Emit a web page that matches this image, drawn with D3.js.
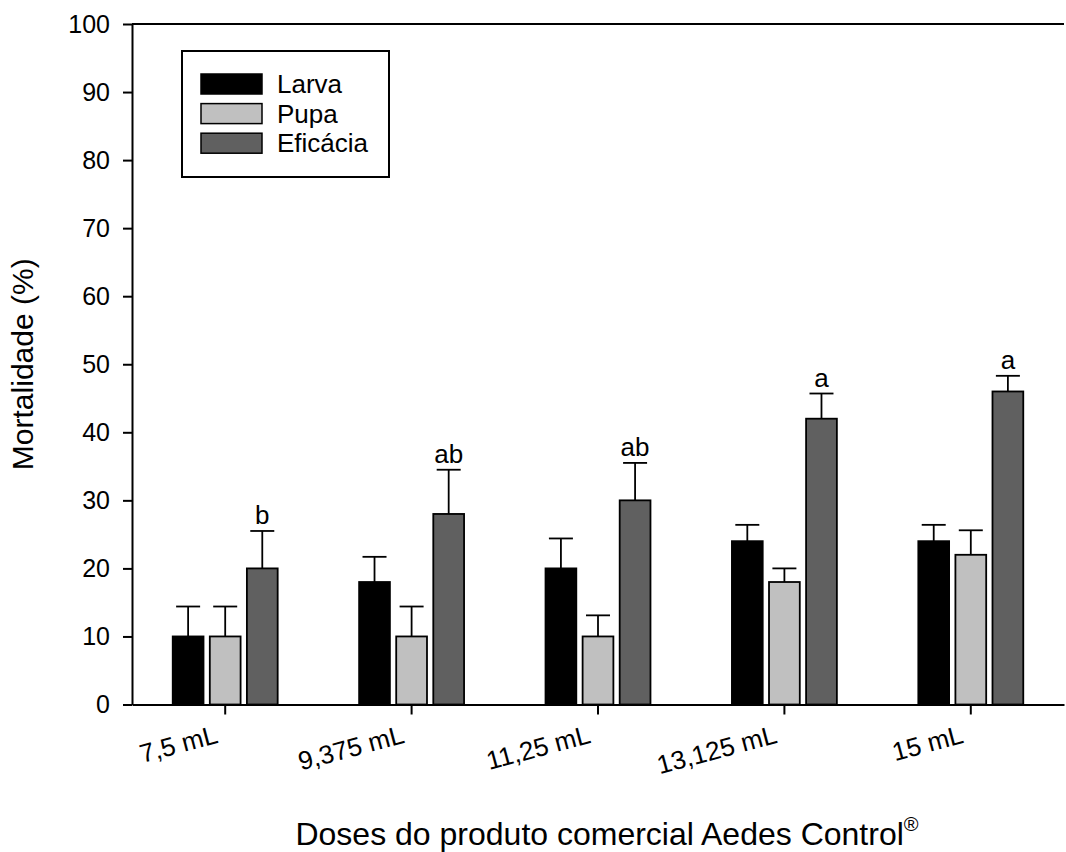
<!DOCTYPE html>
<html>
<head>
<meta charset="utf-8">
<script src="https://cdn.jsdelivr.net/npm/d3@7"></script>
<style>
  body { margin: 0; background: #fff; }
  svg { display: block; font-family: "Liberation Sans", Arial, sans-serif; }
</style>
</head>
<body>
<svg width="1066" height="852"></svg>
<script>
// doses and series
var doses = ["7,5 mL", "9,375 mL", "11,25 mL", "13,125 mL", "15 mL"];
var seriesNames = ["Larva", "Pupa", "Eficácia"];
var seriesColors = ["#000000", "#c0c0c0", "#606060"];

var larva = [10, 18, 20, 24, 24];
var pupa = [10, 10, 10, 18, 22];
var eficacia = [20, 28, 30, 42, 46];

var larvaErr = [4.4, 3.7, 4.4, 2.4, 2.4];
var pupaErr = [4.4, 4.4, 3.1, 2.0, 3.6];
var eficaciaErr = [5.5, 6.5, 5.5, 3.7, 2.3];

var letters = ["b", "ab", "ab", "a", "a"];
var yTicks = [0, 10, 20, 30, 40, 50, 60, 70, 80, 90, 100];

var values = [larva, pupa, eficacia];
var errors = [larvaErr, pupaErr, eficaciaErr];

var margin = {left: 132, right: 1064, top: 24, bottom: 704.5};

var svg = d3.select("svg");

var x0 = d3.scaleBand()
  .domain(doses)
  .range([margin.left, margin.right])
  .paddingInner(0.437)
  .paddingOuter(0.2185);

var x1 = d3.scaleBand()
  .domain(seriesNames)
  .range([0, x0.bandwidth()])
  .paddingInner(0.17);

var y = d3.scaleLinear()
  .domain([0, 100])
  .range([margin.bottom, margin.top]);

// flat list of bars
var bars = [];
doses.forEach(function(d, i){
  seriesNames.forEach(function(s, j){
    bars.push({dose: d, series: s, idx: j, value: values[j][i], err: errors[j][i]});
  });
});

function barMid(d){ return x0(d.dose) + x1(d.series) + x1.bandwidth() / 2; }

var barG = svg.append("g");

// error bars (upper only), drawn first so the bar outline sits on top
var capW = 24;
var errG = barG.selectAll("g.err")
  .data(bars)
  .enter().append("g")
  .attr("class", "err")
  .attr("stroke", "#000")
  .attr("stroke-width", 1.8);

errG.append("line")
  .attr("x1", barMid)
  .attr("x2", barMid)
  .attr("y1", function(d){ return y(d.value); })
  .attr("y2", function(d){ return y(d.value + d.err); });

errG.append("line")
  .attr("x1", function(d){ return barMid(d) - capW / 2; })
  .attr("x2", function(d){ return barMid(d) + capW / 2; })
  .attr("y1", function(d){ return y(d.value + d.err); })
  .attr("y2", function(d){ return y(d.value + d.err); });

barG.selectAll("rect")
  .data(bars)
  .enter().append("rect")
  .attr("x", function(d){ return x0(d.dose) + x1(d.series); })
  .attr("y", function(d){ return y(d.value); })
  .attr("width", x1.bandwidth())
  .attr("height", function(d){ return y(0) - y(d.value); })
  .attr("fill", function(d){ return seriesColors[d.idx]; })
  .attr("stroke", "#000")
  .attr("stroke-width", 1.8);

// significance letters over Eficácia
svg.append("g").selectAll("text")
  .data(doses)
  .enter().append("text")
  .attr("x", function(d){ return x0(d) + x1("Eficácia") + x1.bandwidth() / 2; })
  .attr("y", function(d, i){ return y(eficacia[i] + eficaciaErr[i]) - 7; })
  .attr("text-anchor", "middle")
  .attr("font-size", 26)
  .text(function(d, i){ return letters[i]; });

// axes
var yAxis = d3.axisLeft(y)
  .tickValues(yTicks)
  .tickSize(9)
  .tickSizeOuter(0)
  .tickPadding(13);

var yG = svg.append("g")
  .attr("transform", "translate(" + margin.left + ",0)")
  .call(yAxis);
yG.selectAll("text").attr("font-size", 25).attr("fill", "#000").style("font-family", "inherit");
yG.selectAll("line").attr("stroke", "#000").attr("stroke-width", 2);
yG.select(".domain").attr("stroke", "#000").attr("stroke-width", 2);

var xAxis = d3.axisBottom(x0)
  .tickSize(10)
  .tickSizeOuter(0);

var xG = svg.append("g")
  .attr("transform", "translate(0," + margin.bottom + ")")
  .call(xAxis);
xG.selectAll("line").attr("stroke", "#000").attr("stroke-width", 2);
xG.select(".domain").attr("stroke", "#000").attr("stroke-width", 2);
xG.selectAll("text")
  .attr("font-size", 26)
  .attr("fill", "#000")
  .style("font-family", "inherit")
  .attr("text-anchor", "end")
  .attr("y", null)
  .attr("dy", null)
  .attr("transform", "translate(-6,38) rotate(-15)");

// top frame line
svg.append("line")
  .attr("x1", margin.left).attr("x2", margin.right)
  .attr("y1", margin.top).attr("y2", margin.top)
  .attr("stroke", "#000").attr("stroke-width", 2);

// axis titles
svg.append("text")
  .attr("transform", "translate(33," + (margin.top + margin.bottom) / 2 + ") rotate(-90)")
  .attr("text-anchor", "middle")
  .attr("font-size", 30)
  .text("Mortalidade (%)");

var xt = svg.append("text")
  .attr("x", 607)
  .attr("y", 845)
  .attr("text-anchor", "middle")
  .attr("font-size", 32);
xt.append("tspan").text("Doses do produto comercial Aedes Control");
xt.append("tspan").attr("font-size", 20).attr("dy", -14).text("®");

// legend
var legend = svg.append("g").attr("transform", "translate(182,51)");
legend.append("rect")
  .attr("width", 207).attr("height", 126)
  .attr("fill", "#fff").attr("stroke", "#000").attr("stroke-width", 2);

var item = legend.selectAll("g.item")
  .data(seriesNames)
  .enter().append("g")
  .attr("class", "item")
  .attr("transform", function(d, i){ return "translate(19," + (23 + i * 29.6) + ")"; });

item.append("rect")
  .attr("width", 61).attr("height", 20)
  .attr("fill", function(d, i){ return seriesColors[i]; })
  .attr("stroke", "#000").attr("stroke-width", 1.5);

item.append("text")
  .attr("x", 76).attr("y", 19)
  .attr("font-size", 26)
  .text(function(d){ return d; });
</script>
</body>
</html>
